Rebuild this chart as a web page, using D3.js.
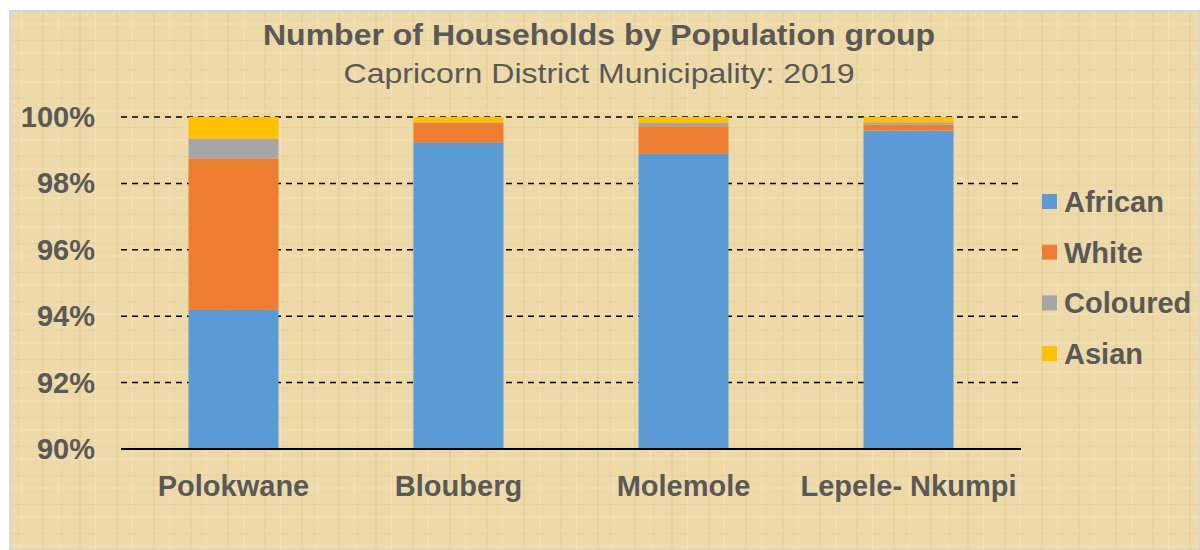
<!DOCTYPE html>
<html>
<head>
<meta charset="utf-8">
<script src="https://cdn.jsdelivr.net/npm/d3@7"></script>
<style>
  body { margin: 0; background: #fff; }
  svg { display: block; }
</style>
</head>
<body>
<div id="chart"></div>
<script>
const municipalities = ['Polokwane', 'Blouberg', 'Molemole', 'Lepele- Nkumpi'];
const groups = ['African', 'White', 'Coloured', 'Asian'];
const african = [94.19, 99.22, 98.89, 99.59];
const white = [4.56, 0.60, 0.83, 0.18];
const coloured = [0.60, 0.02, 0.10, 0.07];
const asian = [0.65, 0.16, 0.18, 0.16];
const yTicks = [90, 92, 94, 96, 98, 100];

const colors = ['#5b9bd5', '#ed7d31', '#a5a5a5', '#ffc000'];
const width = 1200, height = 550;
const plot = { left: 121, right: 1021, top: 117, bottom: 449 };

const svg = d3.select('#chart').append('svg')
  .attr('width', width)
  .attr('height', height);

// Papyrus-like background
const defs = svg.append('defs');
const pat = defs.append('pattern')
  .attr('id', 'paper')
  .attr('width', 37).attr('height', 29)
  .attr('patternUnits', 'userSpaceOnUse');
pat.append('rect').attr('width', 37).attr('height', 29).attr('fill', '#eedaa8');
pat.append('rect').attr('x', 5).attr('width', 2).attr('height', 29).attr('fill', '#e3cd93').attr('opacity', 0.6);
pat.append('rect').attr('x', 21).attr('width', 1).attr('height', 29).attr('fill', '#f4e3ba').attr('opacity', 0.8);
pat.append('rect').attr('y', 11).attr('width', 37).attr('height', 1).attr('fill', '#e2cb90').attr('opacity', 0.5);
pat.append('rect').attr('y', 23).attr('width', 37).attr('height', 2).attr('fill', '#f3e1b6').attr('opacity', 0.6);

svg.append('rect')
  .attr('x', 10).attr('y', 11)
  .attr('width', width - 10).attr('height', height - 11)
  .attr('fill', 'url(#paper)')
  .attr('stroke', '#d6d6d6')
  .attr('stroke-width', 2);

// Scales
const x = d3.scaleBand()
  .domain(municipalities)
  .range([plot.left, plot.right])
  .padding(0);

const y = d3.scaleLinear()
  .domain([90, 100])
  .range([plot.bottom, plot.top]);

const color = d3.scaleOrdinal().domain(groups).range(colors);

// Gridlines
svg.append('g')
  .selectAll('line')
  .data(yTicks.filter(d => d > 90))
  .enter().append('line')
  .attr('x1', plot.left).attr('x2', plot.right)
  .attr('y1', d => y(d)).attr('y2', d => y(d))
  .attr('stroke', '#000')
  .attr('stroke-width', 1.5)
  .attr('stroke-dasharray', '6,5');

// Stacked bars
const table = municipalities.map((m, i) => ({
  name: m, African: african[i], White: white[i], Coloured: coloured[i], Asian: asian[i]
}));
const series = d3.stack().keys(groups)(table);

const barW = x.bandwidth() * 0.4;
svg.append('g')
  .selectAll('g')
  .data(series)
  .enter().append('g')
  .attr('fill', d => color(d.key))
  .selectAll('rect')
  .data(d => d)
  .enter().append('rect')
  .attr('x', d => x(d.data.name) + (x.bandwidth() - barW) / 2)
  .attr('width', barW)
  .attr('y', d => y(Math.min(d[1], 100)))
  .attr('height', d => {
    const lo = Math.max(d[0], 90), hi = Math.min(d[1], 100);
    return Math.max(0, y(lo) - y(hi));
  });

// X axis line
svg.append('line')
  .attr('x1', plot.left).attr('x2', plot.right)
  .attr('y1', plot.bottom).attr('y2', plot.bottom)
  .attr('stroke', '#000')
  .attr('stroke-width', 2);

const font = "'Liberation Sans', Arial, sans-serif";

// Y axis labels
svg.append('g')
  .selectAll('text')
  .data(yTicks)
  .enter().append('text')
  .attr('x', 95)
  .attr('y', d => y(d) + 10)
  .attr('text-anchor', 'end')
  .style('font-family', font)
  .style('font-size', '29px')
  .style('font-weight', 'bold')
  .style('fill', '#595959')
  .text(d => d + '%');

// X labels
svg.append('g')
  .selectAll('text')
  .data(municipalities)
  .enter().append('text')
  .attr('x', d => x(d) + x.bandwidth() / 2)
  .attr('y', 496)
  .attr('text-anchor', 'middle')
  .style('font-family', font)
  .style('font-size', '29px')
  .style('font-weight', 'bold')
  .style('fill', '#595959')
  .text(d => d);

// Title (source text is slightly stretched horizontally)
svg.append('text')
  .attr('transform', 'translate(599,45) scale(1.067,1)')
  .attr('text-anchor', 'middle')
  .style('font-family', font)
  .style('font-size', '30px')
  .style('font-weight', 'bold')
  .style('fill', '#595959')
  .text('Number of Households by Population group');

svg.append('text')
  .attr('transform', 'translate(599,83) scale(1.145,1)')
  .attr('text-anchor', 'middle')
  .style('font-family', font)
  .style('font-size', '28px')
  .style('fill', '#595959')
  .text('Capricorn District Municipality: 2019');

// Legend
const legend = svg.append('g')
  .attr('transform', 'translate(1042, 202)');

const items = legend.selectAll('g')
  .data(groups)
  .enter().append('g')
  .attr('transform', (d, i) => `translate(0, ${i * 50.7})`);

items.append('rect')
  .attr('x', 0).attr('y', -8)
  .attr('width', 15).attr('height', 15)
  .attr('fill', d => color(d));

items.append('text')
  .attr('x', 22)
  .attr('y', 10)
  .style('font-family', font)
  .style('font-size', '29px')
  .style('font-weight', 'bold')
  .style('fill', '#595959')
  .text(d => d);
</script>
</body>
</html>
